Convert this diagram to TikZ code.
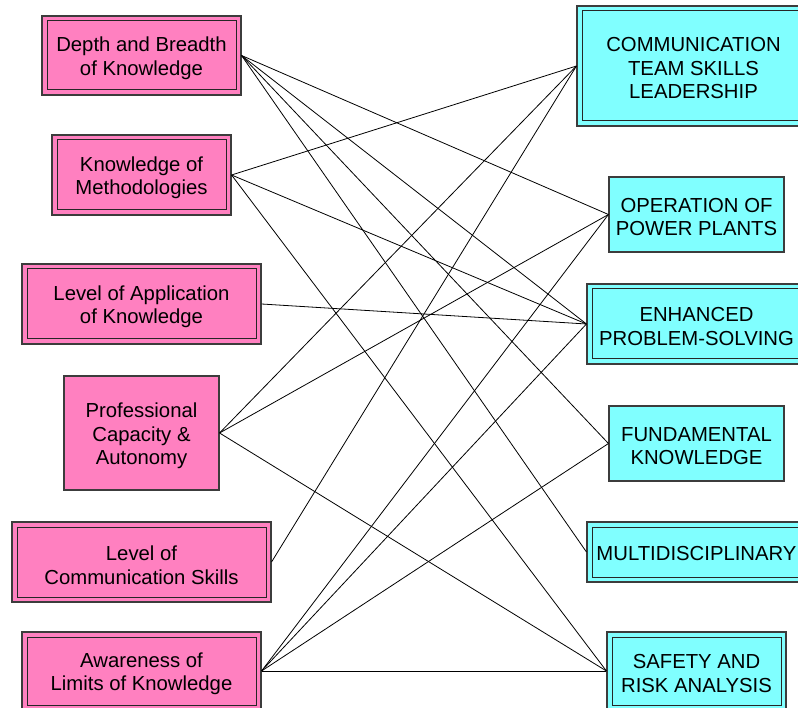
\documentclass[tikz,border=0pt]{standalone}
\usepackage{fontspec}
\setmainfont{Liberation Sans}
\definecolor{pinkc}{RGB}{255,128,192}
\definecolor{cyanc}{RGB}{128,255,255}
\definecolor{boxline}{RGB}{60,60,60}
\begin{document}
\begin{tikzpicture}[x=1pt,y=-1pt,
  box/.style={rectangle, draw=boxline, line width=1.1pt, inner sep=0pt},
  lbox/.style={box, fill=pinkc},
  rbox/.style={box, fill=cyanc},
  dbl/.style={path picture={\draw[line width=1pt, black!85]
    ([shift={(5pt,5pt)}]path picture bounding box.south west) rectangle
    ([shift={(-5pt,-5pt)}]path picture bounding box.north east);}},
  txt/.style={inner sep=0pt, align=center, font=\fontsize{20.3}{23.5}\selectfont},
  link/.style={draw=black, line width=0.8pt}]
\useasboundingbox (0,0) rectangle (798,708);
% left column
\node[lbox, dbl, minimum width=199pt, minimum height=79pt] (L1) at (141.5,55.5) {};
\node[lbox, dbl, minimum width=179pt, minimum height=80pt] (L2) at (141.5,175) {};
\node[lbox, dbl, minimum width=239pt, minimum height=80pt] (L3) at (141.5,304) {};
\node[lbox, minimum width=155pt, minimum height=114pt] (L4) at (141.5,433) {};
\node[lbox, dbl, minimum width=259pt, minimum height=80pt] (L5) at (141.5,562) {};
\node[lbox, dbl, minimum width=239pt, minimum height=78pt] (L6) at (141.5,671) {};
\node[txt] (L1t) at ([yshift=-3pt]L1.center) {Depth and Breadth\\of Knowledge};
\node[txt] (L2t) at ([yshift=-3pt]L2.center) {Knowledge of\\Methodologies};
\node[txt] (L3t) at ([yshift=-3pt]L3.center) {Level of Application\\of Knowledge};
\node[txt] (L4t) at ([yshift=-3pt]L4.center) {Professional\\Capacity \&\\Autonomy};
\node[txt] (L5t) at ([yshift=-3pt]L5.center) {Level of\\Communication Skills};
\node[txt] (L6t) at ([yshift=-3pt]L6.center) {Awareness of\\Limits of Knowledge};
% right column
\node[rbox, dbl, minimum width=233pt, minimum height=120pt] (R1) at (693.5,66) {};
\node[rbox, minimum width=175pt, minimum height=75pt] (R2) at (696.5,214.5) {};
\node[rbox, dbl, minimum width=219pt, minimum height=80pt] (R3) at (696.5,324) {};
\node[rbox, minimum width=175pt, minimum height=75pt] (R4) at (696.5,443.5) {};
\node[rbox, dbl, minimum width=219pt, minimum height=60pt] (R5) at (696.5,552) {};
\node[rbox, dbl, minimum width=179pt, minimum height=78pt] (R6) at (696.5,671) {};
\node[txt] (R1t) at ([yshift=-2.5pt]R1.center) {COMMUNICATION\\TEAM SKILLS\\LEADERSHIP};
\node[txt] (R2t) at ([yshift=-2.5pt]R2.center) {OPERATION OF\\POWER PLANTS};
\node[txt] (R3t) at ([yshift=-2.5pt]R3.center) {ENHANCED\\PROBLEM-SOLVING};
\node[txt] (R4t) at ([yshift=-2.5pt]R4.center) {FUNDAMENTAL\\KNOWLEDGE};
\node[txt] (R5t) at ([yshift=-1.5pt]R5.center) {MULTIDISCIPLINARY};
\node[txt] (R6t) at ([yshift=-2.5pt]R6.center) {SAFETY AND\\RISK ANALYSIS};
% connectors
\draw[link] (L1.east) -- (R2.west);
\draw[link] (L1.east) -- (R3.west);
\draw[link] (L1.east) -- (R4.west);
\draw[link] (L1.east) -- (R5.west);
\draw[link] (L2.east) -- (R1.west);
\draw[link] (L2.east) -- (R3.west);
\draw[link] (L2.east) -- (R6.west);
\draw[link] (L3.east) -- (R3.west);
\draw[link] (L4.east) -- (R1.west);
\draw[link] (L4.east) -- (R2.west);
\draw[link] (L4.east) -- (R6.west);
\draw[link] (L5.east) -- (R1.west);
\draw[link] (L6.east) -- (R2.west);
\draw[link] (L6.east) -- (R3.west);
\draw[link] (L6.east) -- (R4.west);
\draw[link] (L6.east) -- (R6.west);
\end{tikzpicture}
\end{document}
